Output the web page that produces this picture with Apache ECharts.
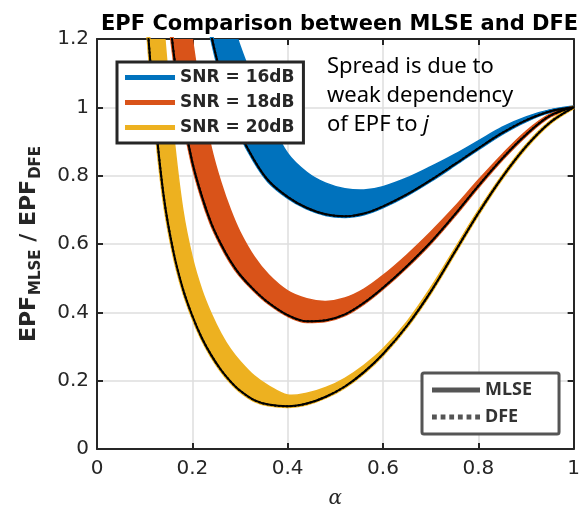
<!DOCTYPE html>
<html>
<head>
<meta charset="utf-8">
<script src="https://cdn.jsdelivr.net/npm/echarts@6/dist/echarts.min.js"></script>
<style>
  html, body { margin: 0; padding: 0; background: #fff; }
  #main { width: 583px; height: 514px; }
</style>
</head>
<body>
<div id="main"></div>
<script>
// alpha grid the curves were read at
var alpha = [0.1, 0.12, 0.14, 0.16, 0.18, 0.2, 0.22, 0.24, 0.26, 0.28, 0.3, 0.33, 0.36, 0.4,
  0.44, 0.48, 0.52, 0.56, 0.6, 0.65, 0.7, 0.75, 0.8, 0.85, 0.9, 0.95, 1.0];

// lower edge of each band (where MLSE / DFE lines sit) and upper edge (spread over j)
var snr16Low = [3.0, 2.5, 2.1, 1.85, 1.7, 1.55, 1.36, 1.21, 1.095, 1.0, 0.925, 0.845, 0.785, 0.738,
  0.706, 0.687, 0.681, 0.689, 0.71, 0.745, 0.787, 0.833, 0.88, 0.925, 0.962, 0.988, 1.0];
var snr16High = [3.5, 3.0, 2.6, 2.3, 2.0, 1.8, 1.6, 1.45, 1.35, 1.27, 1.18, 1.07, 0.97, 0.865,
  0.81, 0.778, 0.762, 0.758, 0.768, 0.793, 0.826, 0.862, 0.902, 0.942, 0.972, 0.992, 1.0];

var snr18Low = [2.3, 1.85, 1.45, 1.17, 0.98, 0.84, 0.74, 0.66, 0.6, 0.55, 0.51, 0.465, 0.428, 0.392,
  0.374, 0.377, 0.394, 0.428, 0.472, 0.535, 0.605, 0.685, 0.77, 0.85, 0.92, 0.975, 1.0];
var snr18High = [2.5, 2.2, 1.9, 1.65, 1.41, 1.2, 1.02, 0.88, 0.78, 0.7, 0.635, 0.562, 0.51, 0.463,
  0.44, 0.432, 0.442, 0.468, 0.508, 0.568, 0.635, 0.708, 0.787, 0.862, 0.93, 0.98, 1.0];

var snr20Low = [1.35, 1.0, 0.74, 0.58, 0.47, 0.39, 0.325, 0.274, 0.232, 0.198, 0.171, 0.143, 0.13, 0.125,
  0.133, 0.153, 0.183, 0.225, 0.278, 0.36, 0.46, 0.575, 0.69, 0.795, 0.885, 0.955, 1.0];
var snr20High = [2.0, 1.6, 1.24, 0.93, 0.7, 0.56, 0.465, 0.395, 0.338, 0.292, 0.257, 0.214, 0.185, 0.158,
  0.163, 0.18, 0.207, 0.245, 0.293, 0.372, 0.472, 0.585, 0.698, 0.8, 0.89, 0.958, 1.0];

var snrNames = ["SNR = 16dB", "SNR = 18dB", "SNR = 20dB"];
var snrColors = ["#0072BD", "#D95319", "#EDB120"];

var axisColor = "#262626";
var SMOOTH = 0.35;

function pairs(xs, ys) {
  return xs.map(function (x, i) {
    return [x, ys[i]];
  });
}

// one closed outline per band: lower edge forward, upper edge back
function bandRender(lo, hi) {
  return function (params, api) {
    if (params.dataIndex !== 0) return null;
    var n = alpha.length;
    var pts = [];
    for (var i = 0; i < n; i++) pts.push(api.coord([alpha[i], lo[i]]));
    for (var j = n - 2; j >= 0; j--) pts.push(api.coord([alpha[j], hi[j]]));
    var c = api.visual("color");
    return {
      type: "polygon",
      shape: { points: pts, smooth: SMOOTH },
      style: { fill: c, stroke: c, lineWidth: 1.5 },
    };
  };
}

var bands = [
  [snr16Low, snr16High],
  [snr18Low, snr18High],
  [snr20Low, snr20High],
];

var series = [];
bands.forEach(function (b, k) {
  series.push({
    name: snrNames[k],
    type: "custom",
    clip: true,
    color: snrColors[k],
    renderItem: bandRender(b[0], b[1]),
    data: b[0].map(function (v, i) {
      return [alpha[i], v, b[1][i]];
    }),
    encode: { x: 0, y: [1, 2] },
    z: 2,
  });
  series.push({
    name: snrNames[k],
    type: "line",
    data: pairs(alpha, b[0]),
    symbol: "none",
    smooth: SMOOTH,
    color: snrColors[k],
    lineStyle: { color: snrColors[k], width: 4 },
    z: 3,
  });
});
bands.forEach(function (b) {
  series.push({
    name: "MLSE",
    type: "line",
    data: pairs(alpha, b[0]),
    symbol: "none",
    smooth: SMOOTH,
    color: "#000",
    lineStyle: { color: "#000", width: 2 },
    z: 4,
  });
  series.push({
    name: "DFE",
    type: "line",
    data: pairs(alpha, b[0]),
    symbol: "none",
    smooth: SMOOTH,
    color: "#000",
    lineStyle: { color: "#000", width: 2, type: [2, 2] },
    z: 5,
  });
});

var lineIcon = "path://M0,0 L50,0 L50,5 L0,5 Z";
var dotIcon = "path://M0,0h5v5h-5z M9,0h5v5h-5z M18,0h5v5h-5z M27,0h5v5h-5z M36,0h5v5h-5z M45,0h5v5h-5z";

function baseX(pos, showLabel) {
  return {
    type: "value",
    position: pos,
    min: 0,
    max: 1,
    interval: 0.2,
    axisLine: { show: true, onZero: false, lineStyle: { color: axisColor, width: 2 } },
    axisTick: { show: true, inside: true, length: 6, lineStyle: { color: axisColor, width: 2 } },
    axisLabel: {
      show: showLabel,
      color: axisColor,
      fontSize: 20,
      fontFamily: "DejaVu Sans",
      margin: 10,
    },
    splitLine: { show: showLabel, lineStyle: { color: "#dedede", width: 1.5 } },
  };
}
function baseY(pos, showLabel) {
  return {
    type: "value",
    position: pos,
    min: 0,
    max: 1.2,
    interval: 0.2,
    axisLine: { show: true, onZero: false, lineStyle: { color: axisColor, width: 2 } },
    axisTick: { show: true, inside: true, length: 6, lineStyle: { color: axisColor, width: 2 } },
    axisLabel: {
      show: showLabel,
      color: axisColor,
      fontSize: 20,
      fontFamily: "DejaVu Sans",
      margin: 8,
    },
    splitLine: { show: showLabel, lineStyle: { color: "#dedede", width: 1.5 } },
  };
}

var xMain = baseX("bottom", true);
xMain.name = "α";
xMain.nameLocation = "middle";
xMain.nameGap = 40;
xMain.nameTextStyle = {
  color: axisColor,
  fontFamily: "DejaVu Serif",
  fontStyle: "italic",
  fontSize: 20,
};

var yMain = baseY("left", true);
yMain.name = "{m|EPF}{s|MLSE}{m| / EPF}{s|DFE}";
yMain.nameLocation = "middle";
yMain.nameGap = 53;
yMain.nameTextStyle = {
  rich: {
    m: {
      fontFamily: "DejaVu Sans",
      fontWeight: "bold",
      fontSize: 22,
      color: axisColor,
    },
    s: {
      fontFamily: "DejaVu Sans",
      fontWeight: "bold",
      fontSize: 15,
      color: axisColor,
      padding: [15, 0, 0, 1],
    },
  },
};

var option = {
  animation: false,
  backgroundColor: "#fff",
  title: {
    text: "EPF Comparison between MLSE and DFE",
    left: 96,
    top: 9,
    textStyle: {
      fontFamily: "DejaVu Sans",
      fontWeight: "bold",
      fontSize: 21,
      color: "#000",
    },
  },
  grid: { left: 97, right: 6, top: 39, bottom: 64 },
  xAxis: [xMain, baseX("top", false)],
  yAxis: [yMain, baseY("right", false)],
  legend: [
    {
      orient: "vertical",
      left: 117,
      top: 62,
      padding: [7, 9, 7, 8],
      itemGap: 8,
      itemWidth: 50,
      itemHeight: 16,
      borderColor: axisColor,
      borderWidth: 3,
      borderRadius: 0,
      backgroundColor: "#fff",
      textStyle: {
        color: axisColor,
        fontFamily: "DejaVu Sans",
        fontWeight: "bold",
        fontSize: 17,
      },
      itemStyle: { borderWidth: 0 },
      selectedMode: false,
      data: snrNames.map(function (n, k) {
        return { name: n, icon: lineIcon, itemStyle: { color: snrColors[k] } };
      }),
      z: 10,
    },
    {
      orient: "vertical",
      left: 422,
      top: 373,
      padding: [8, 27, 8, 10],
      itemGap: 9,
      itemWidth: 48,
      itemHeight: 16,
      borderColor: "#555",
      borderWidth: 3,
      borderRadius: 2,
      backgroundColor: "#fff",
      textStyle: { color: "#333", fontFamily: "Noto Sans", fontWeight: "bold", fontSize: 18 },
      itemStyle: { borderWidth: 0 },
      selectedMode: false,
      data: [
        { name: "MLSE", icon: lineIcon, itemStyle: { color: "#555" } },
        { name: "DFE", icon: dotIcon, itemStyle: { color: "#555" } },
      ],
      z: 10,
    },
  ],
  graphic: [
    {
      type: "text",
      left: 327,
      top: 52,
      z: 100,
      style: {
        text: "Spread is due to\nweak dependency\nof EPF to {i|j}",
        fontFamily: "Noto Sans",
        fontSize: 22,
        lineHeight: 29,
        fill: "#000",
        rich: {
          i: { fontFamily: "Noto Sans", fontStyle: "italic", fontSize: 22, lineHeight: 29 },
        },
      },
    },
  ],
  series: series,
};

var myChart = echarts.init(document.getElementById("main"));
myChart.setOption(option);
</script>
</body>
</html>
